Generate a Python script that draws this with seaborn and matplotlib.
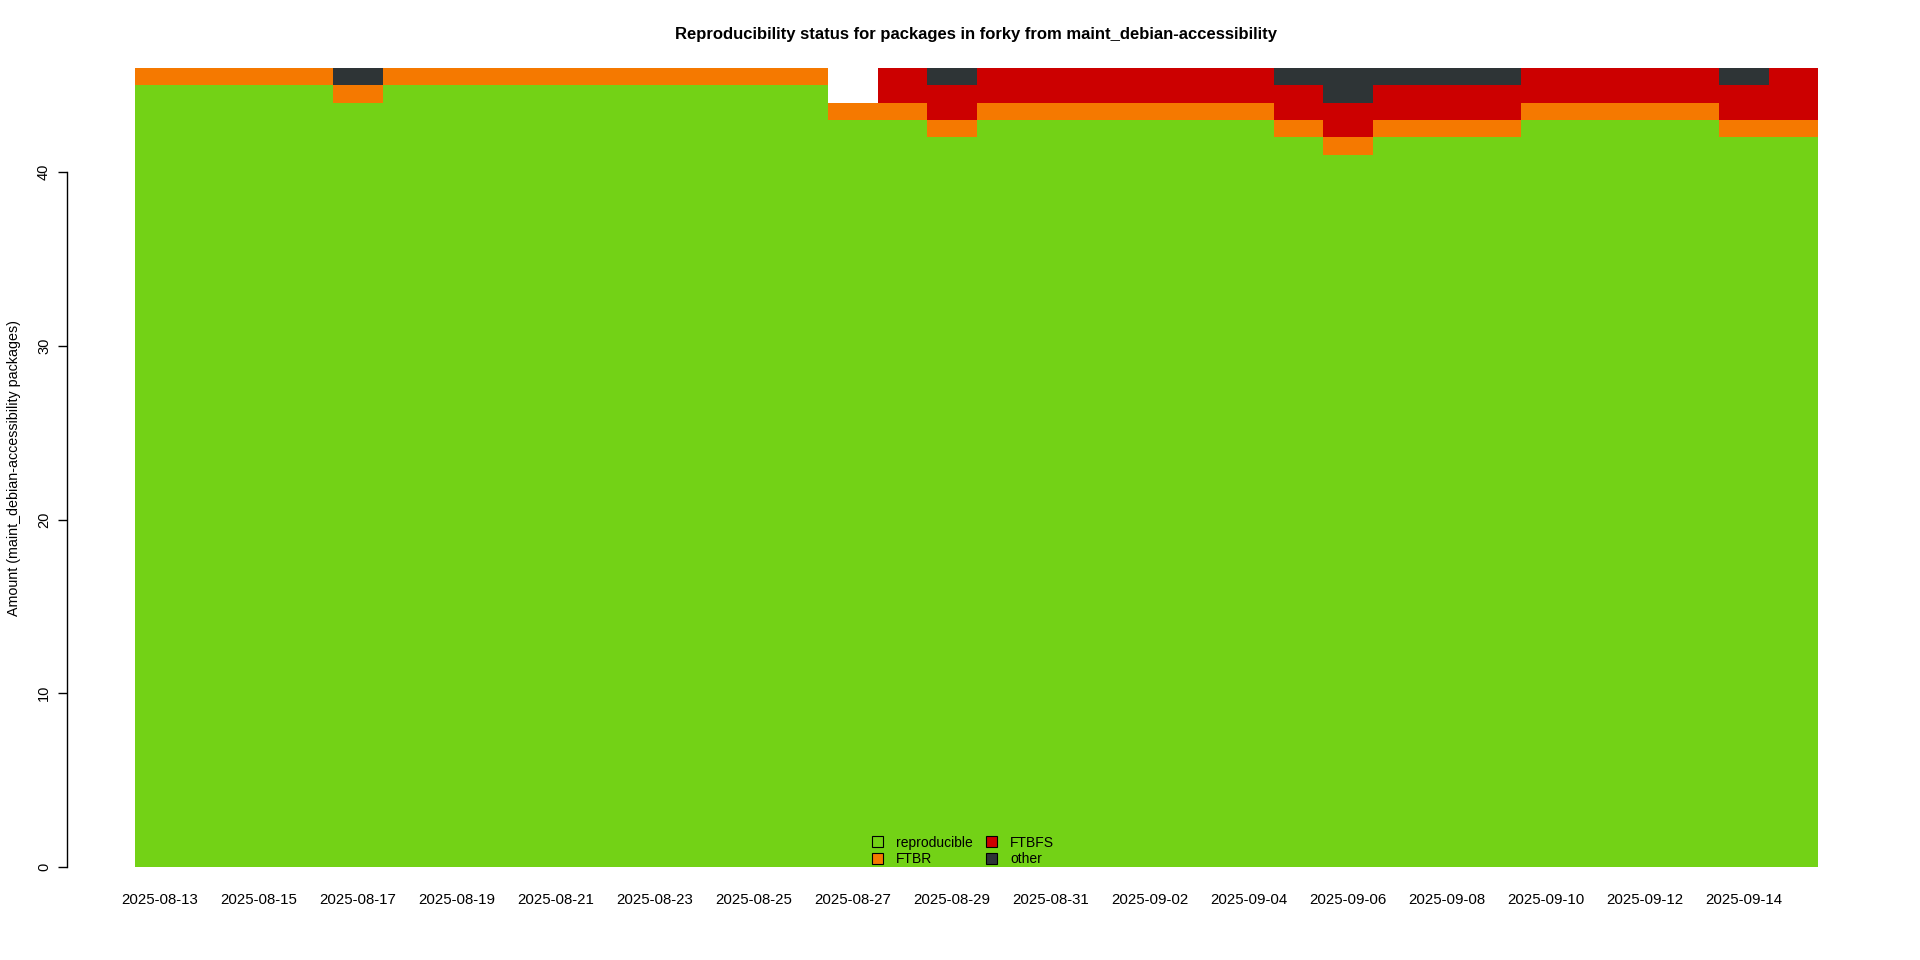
import pandas as pd
import numpy as np
import matplotlib
matplotlib.use('Agg')
import matplotlib.pyplot as plt
import seaborn as sns
from matplotlib.patches import Patch

# days shown in the chart (one column per day)
dates = pd.date_range('2025-08-13', '2025-09-15').strftime('%Y-%m-%d').tolist()

reproducible = [45, 45, 45, 45, 44, 45, 45, 45, 45, 45, 45, 45, 45, 45, 43, 43, 42,
                43, 43, 43, 43, 43, 43, 42, 41, 42, 42, 42, 43, 43, 43, 43, 42, 42]
ftbr = [1] * 34
ftbfs = [0, 0, 0, 0, 0, 0, 0, 0, 0, 0, 0, 0, 0, 0, 0, 2, 2,
         2, 2, 2, 2, 2, 2, 2, 2, 2, 2, 2, 2, 2, 2, 2, 2, 3]
other = [0, 0, 0, 0, 1, 0, 0, 0, 0, 0, 0, 0, 0, 0, 0, 0, 1,
         0, 0, 0, 0, 0, 0, 1, 2, 1, 1, 1, 0, 0, 0, 0, 1, 0]

statuses = ['reproducible', 'FTBR', 'FTBFS', 'other']
colors = {'reproducible': '#73d216', 'FTBR': '#f57900',
          'FTBFS': '#cc0000', 'other': '#2e3436'}

series = {'reproducible': reproducible, 'FTBR': ftbr, 'FTBFS': ftbfs, 'other': other}
rows = []
for st, vals in series.items():
    for i, v in enumerate(vals):
        rows.append({'day': i, 'status': st, 'count': v})
df = pd.DataFrame(rows)

plt.rcParams['font.family'] = ['Liberation Sans', 'DejaVu Sans']

W, H = 1920, 960
fig = plt.figure(figsize=(19.2, 9.6), dpi=100)
ax = fig.add_axes([135 / W, (H - 867) / H, 1683 / W, 799 / H])

# seaborn stacks the first hue level on top, so reverse to put reproducible at the bottom
sns.histplot(data=df, x='day', weights='count', hue='status',
             hue_order=statuses[::-1], palette=colors, multiple='stack',
             discrete=True, element='step', fill=True, alpha=1, linewidth=0,
             legend=False, ax=ax)

ax.set_xlim(-0.5, len(dates) - 0.5)
ax.set_ylim(0, 46)

for s in ['top', 'right', 'bottom']:
    ax.spines[s].set_visible(False)
ax.spines['left'].set_position(('outward', 49))
ax.spines['left'].set_bounds(0, 40)
ax.spines['left'].set_linewidth(1)

ax.set_yticks([0, 10, 20, 30, 40])
ax.tick_params(axis='y', length=6.5, width=1, pad=5, labelsize=10.5, labelrotation=90)
for lab in ax.get_yticklabels():
    lab.set_va('center')

ax.set_xticks(np.arange(0, len(dates), 2))
ax.set_xticklabels(dates[::2])
ax.tick_params(axis='x', length=0, pad=19, labelsize=10.8)

ax.set_xlabel('')
ax.set_ylabel('Amount (maint_debian-accessibility packages)', fontsize=10.3)
ax.yaxis.set_label_coords(-0.0675, 0.5)

fig.text(976 / W, 1 - 34 / H,
         'Reproducibility status for packages in forky from maint_debian-accessibility',
         ha='center', va='center', fontsize=12, fontweight='bold')

handles = [Patch(facecolor=colors[s], edgecolor='black', linewidth=0.8) for s in statuses]
fig.legend(handles, statuses, loc='center', bbox_to_anchor=(963 / W, 1 - 851 / H),
           ncol=2, frameon=False, fontsize=10, handlelength=0.8, handleheight=0.8,
           handletextpad=0.9, columnspacing=1.0, labelspacing=0.2)

fig.savefig('out.png', dpi=100)
